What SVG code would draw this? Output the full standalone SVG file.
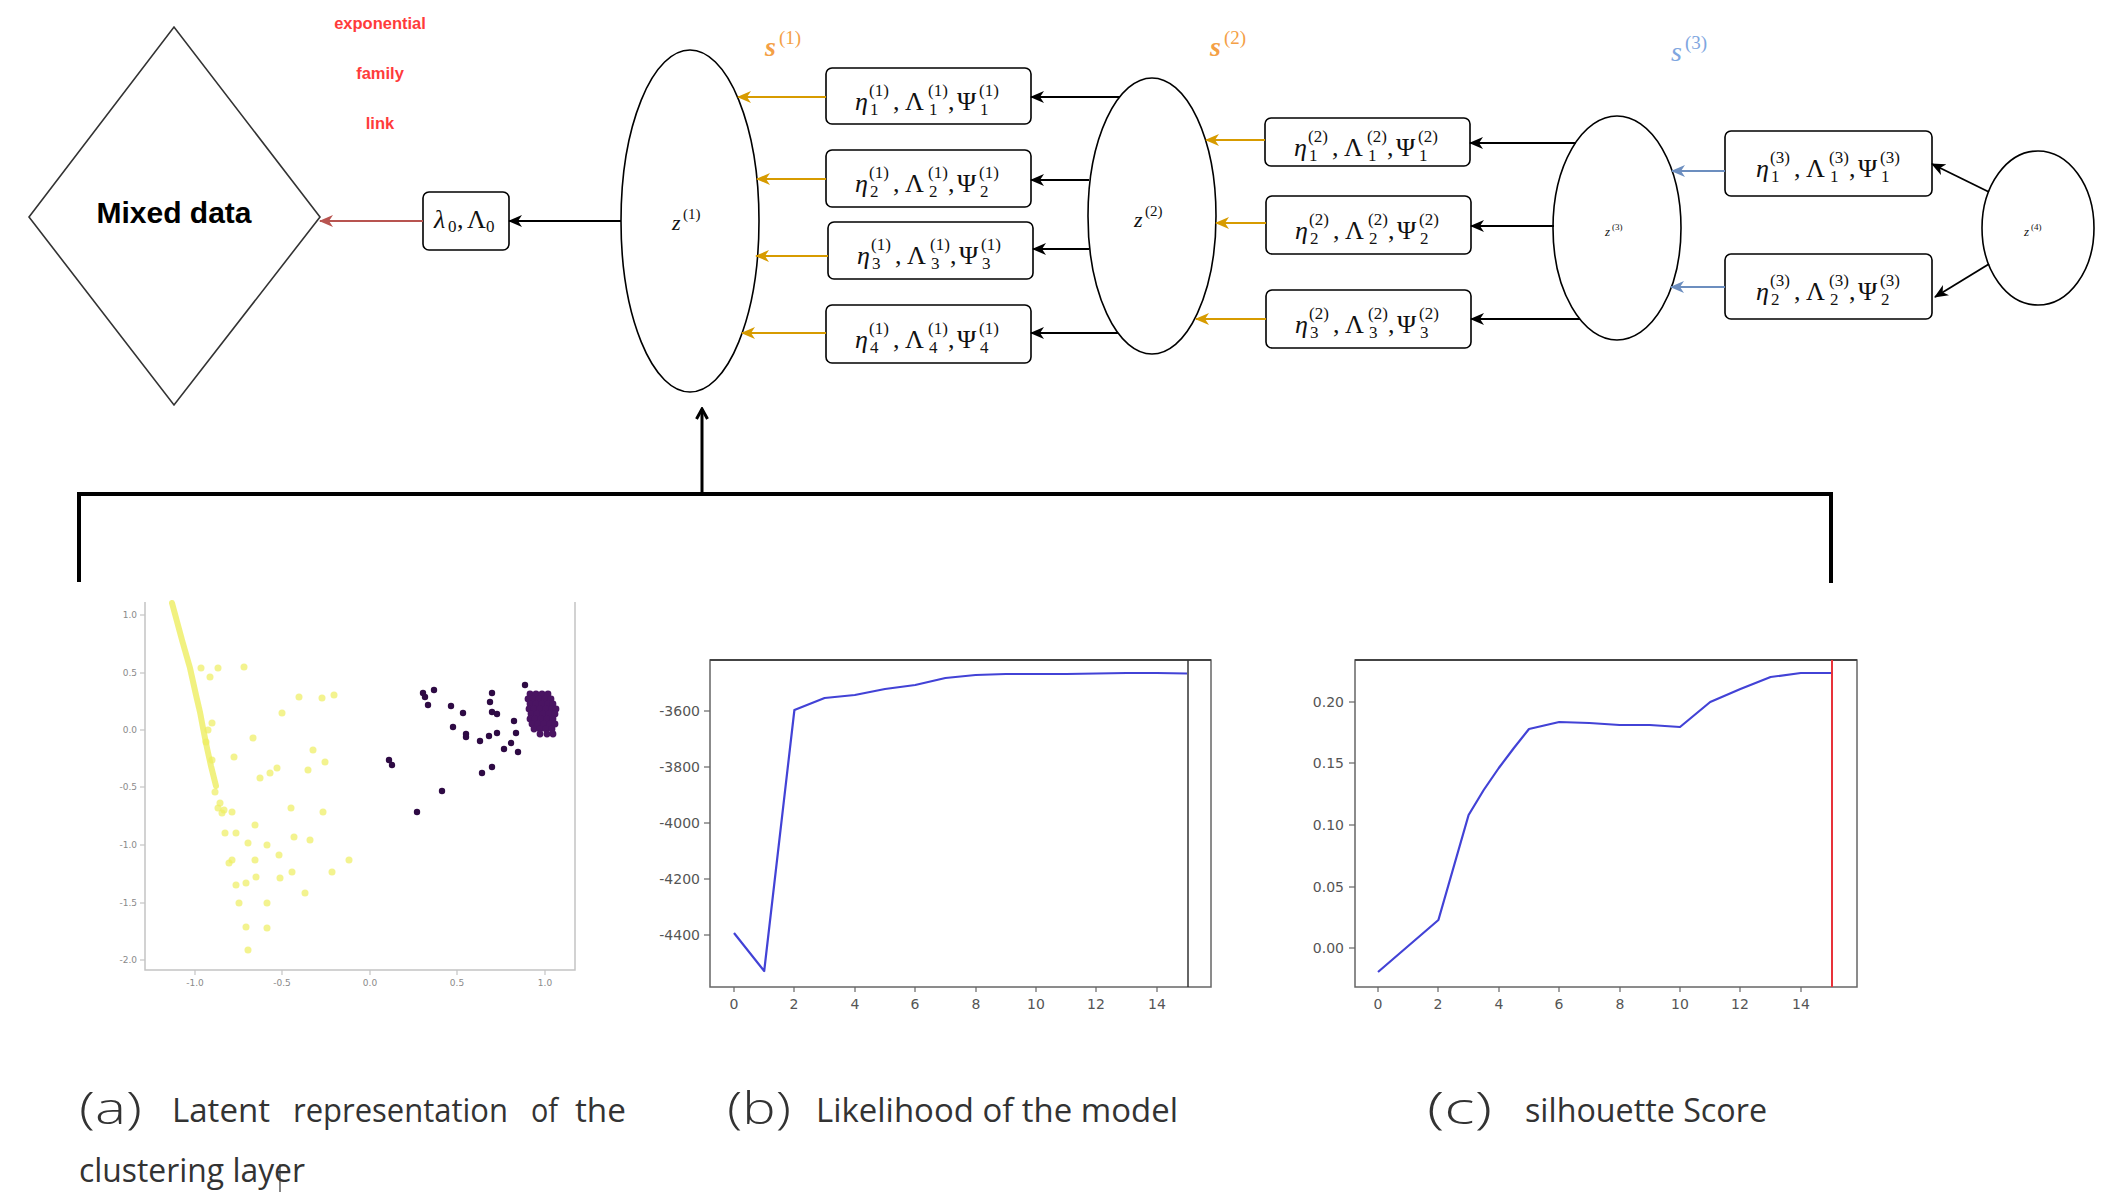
<svg xmlns="http://www.w3.org/2000/svg" width="2121" height="1192" viewBox="0 0 2121 1192">
  <style>
    .node { fill: #ffffff; stroke: #000000; stroke-width: 1.6; }
    .box { fill: #ffffff; stroke: #000000; stroke-width: 1.6; }
    .math { font-family: "Liberation Serif", "DejaVu Serif", serif; fill: #111111; }
    .it { font-style: italic; }
    .m { font-size: 26px; }
    .sc { font-size: 17px; }
    .wire { fill: none; stroke-width: 1.8; }
    .k { stroke: #000000; }
    .o { stroke: #d79b00; }
    .b { stroke: #6c8ebf; }
    .r { stroke: #b85450; }
    .red-lbl { font-family: "Liberation Sans", Arial, sans-serif; font-weight: bold; font-size: 16.5px; fill: #ff3b3b; text-anchor: middle; }
    .tick { font-family: "DejaVu Sans", sans-serif; font-size: 14px; fill: #555555; }
    .tick-s { font-family: "DejaVu Sans", sans-serif; font-size: 9px; fill: #8a8a8a; }
    .cap { font-family: "Open Sans", "Liberation Sans", sans-serif; font-size: 32px; fill: #333333; }
    .par { font-family: "Open Sans", "Liberation Sans", sans-serif; font-size: 44px; font-weight: 300; fill: #333333; }
    .yl { fill: #eeee60; fill-opacity: 0.7; }
    .pu { fill: #2e0a44; }
  </style>
  <defs>
    <marker id="ah-k" viewBox="0 0 14 12" refX="13" refY="6" markerWidth="14" markerHeight="12" orient="auto" markerUnits="userSpaceOnUse"><path d="M0,0 L14,6 L0,12 L4,6 Z" fill="#000000"/></marker>
    <marker id="ah-o" viewBox="0 0 14 12" refX="13" refY="6" markerWidth="14" markerHeight="12" orient="auto" markerUnits="userSpaceOnUse"><path d="M0,0 L14,6 L0,12 L4,6 Z" fill="#d79b00"/></marker>
    <marker id="ah-b" viewBox="0 0 14 12" refX="13" refY="6" markerWidth="14" markerHeight="12" orient="auto" markerUnits="userSpaceOnUse"><path d="M0,0 L14,6 L0,12 L4,6 Z" fill="#6c8ebf"/></marker>
    <marker id="ah-r" viewBox="0 0 14 12" refX="13" refY="6" markerWidth="14" markerHeight="12" orient="auto" markerUnits="userSpaceOnUse"><path d="M0,0 L14,6 L0,12 L4,6 Z" fill="#b85450"/></marker>
    <marker id="ah-open" viewBox="0 0 14 14" refX="12" refY="7" markerWidth="14" markerHeight="14" orient="auto" markerUnits="userSpaceOnUse"><path d="M2,1.5 L12,7 L2,12.5" fill="none" stroke="#000000" stroke-width="3"/></marker>
  </defs>

  <rect x="0" y="0" width="2121" height="1192" fill="#ffffff"/>

  <!-- ===== model graph ===== -->
  <g id="mixed-data">
    <polygon points="29,217 174,27 320,217 174,405" fill="#ffffff" stroke="#333333" stroke-width="1.6"/>
    <text x="174" y="223" text-anchor="middle" font-family="Liberation Sans, Arial, sans-serif" font-weight="bold" font-size="30" fill="#000000">Mixed data</text>
  </g>

  <g id="link-label">
    <text class="red-lbl" x="380" y="29">exponential</text>
    <text class="red-lbl" x="380" y="79">family</text>
    <text class="red-lbl" x="380" y="129">link</text>
  </g>

  <g id="lambda0">
    <rect class="box" x="423" y="192" width="86" height="58" rx="6"/>
    <text class="math"><tspan class="m it" x="434" y="228">λ</tspan><tspan class="sc" x="448" y="232">0</tspan><tspan class="m" x="457" y="228">,</tspan><tspan class="m" x="467" y="228">Λ</tspan><tspan class="sc" x="486" y="232">0</tspan></text>
  </g>

  <g id="z1">
    <ellipse class="node" cx="690" cy="221" rx="69" ry="171"/>
    <text class="math"><tspan class="it" font-size="22" x="672" y="230">z</tspan><tspan font-size="15" x="683" y="219">(1)</tspan></text>
  </g>
  <g id="z2">
    <ellipse class="node" cx="1152" cy="216" rx="64" ry="138"/>
    <text class="math"><tspan class="it" font-size="22" x="1134" y="227">z</tspan><tspan font-size="15" x="1145" y="216">(2)</tspan></text>
  </g>
  <g id="z3">
    <ellipse class="node" cx="1617" cy="228" rx="64" ry="112"/>
    <text class="math"><tspan class="it" font-size="13" x="1605" y="236">z</tspan><tspan font-size="9" x="1612" y="230">(3)</tspan></text>
  </g>
  <g id="z4">
    <ellipse class="node" cx="2038" cy="228" rx="56" ry="77"/>
    <text class="math"><tspan class="it" font-size="13" x="2024" y="236">z</tspan><tspan font-size="9" x="2031" y="230">(4)</tspan></text>
  </g>

  <g id="s-labels" font-family="Liberation Serif, DejaVu Serif, serif">
    <text fill="#f4a045"><tspan x="765" y="56" font-size="28" font-style="italic" font-weight="bold">s</tspan><tspan x="779" y="44" font-size="19">(1)</tspan></text>
    <text fill="#f4a045"><tspan x="1210" y="56" font-size="28" font-style="italic" font-weight="bold">s</tspan><tspan x="1224" y="44" font-size="19">(2)</tspan></text>
    <text fill="#7ea6e0"><tspan x="1671" y="61" font-size="28" font-style="italic">s</tspan><tspan x="1685" y="49" font-size="19">(3)</tspan></text>
  </g>

  <!-- parameter boxes: eta_j^(l), Lambda_j^(l), Psi_j^(l) -->
  <g id="p1-1">
    <rect class="box" x="826" y="68" width="205" height="56" rx="6"/>
    <text class="math"><tspan class="m it" x="855" y="110">η</tspan><tspan class="sc" x="869" y="96">(1)</tspan><tspan class="sc" x="870" y="115">1</tspan><tspan class="m" x="893" y="110">,</tspan><tspan class="m" x="905" y="110">Λ</tspan><tspan class="sc" x="928" y="96">(1)</tspan><tspan class="sc" x="929" y="115">1</tspan><tspan class="m" x="948" y="110">,</tspan><tspan class="m" x="957" y="110">Ψ</tspan><tspan class="sc" x="979" y="96">(1)</tspan><tspan class="sc" x="980" y="115">1</tspan></text>
  </g>
  <g id="p1-2">
    <rect class="box" x="826" y="150" width="205" height="57" rx="6"/>
    <text class="math"><tspan class="m it" x="855" y="192">η</tspan><tspan class="sc" x="869" y="178">(1)</tspan><tspan class="sc" x="870" y="197">2</tspan><tspan class="m" x="893" y="192">,</tspan><tspan class="m" x="905" y="192">Λ</tspan><tspan class="sc" x="928" y="178">(1)</tspan><tspan class="sc" x="929" y="197">2</tspan><tspan class="m" x="948" y="192">,</tspan><tspan class="m" x="957" y="192">Ψ</tspan><tspan class="sc" x="979" y="178">(1)</tspan><tspan class="sc" x="980" y="197">2</tspan></text>
  </g>
  <g id="p1-3">
    <rect class="box" x="828" y="222" width="205" height="57" rx="6"/>
    <text class="math"><tspan class="m it" x="857" y="264">η</tspan><tspan class="sc" x="871" y="250">(1)</tspan><tspan class="sc" x="872" y="269">3</tspan><tspan class="m" x="895" y="264">,</tspan><tspan class="m" x="907" y="264">Λ</tspan><tspan class="sc" x="930" y="250">(1)</tspan><tspan class="sc" x="931" y="269">3</tspan><tspan class="m" x="950" y="264">,</tspan><tspan class="m" x="959" y="264">Ψ</tspan><tspan class="sc" x="981" y="250">(1)</tspan><tspan class="sc" x="982" y="269">3</tspan></text>
  </g>
  <g id="p1-4">
    <rect class="box" x="826" y="305" width="205" height="58" rx="6"/>
    <text class="math"><tspan class="m it" x="855" y="348">η</tspan><tspan class="sc" x="869" y="334">(1)</tspan><tspan class="sc" x="870" y="353">4</tspan><tspan class="m" x="893" y="348">,</tspan><tspan class="m" x="905" y="348">Λ</tspan><tspan class="sc" x="928" y="334">(1)</tspan><tspan class="sc" x="929" y="353">4</tspan><tspan class="m" x="948" y="348">,</tspan><tspan class="m" x="957" y="348">Ψ</tspan><tspan class="sc" x="979" y="334">(1)</tspan><tspan class="sc" x="980" y="353">4</tspan></text>
  </g>

  <g id="p2-1">
    <rect class="box" x="1265" y="118" width="205" height="48" rx="6"/>
    <text class="math"><tspan class="m it" x="1294" y="156">η</tspan><tspan class="sc" x="1308" y="142">(2)</tspan><tspan class="sc" x="1309" y="161">1</tspan><tspan class="m" x="1332" y="156">,</tspan><tspan class="m" x="1344" y="156">Λ</tspan><tspan class="sc" x="1367" y="142">(2)</tspan><tspan class="sc" x="1368" y="161">1</tspan><tspan class="m" x="1387" y="156">,</tspan><tspan class="m" x="1396" y="156">Ψ</tspan><tspan class="sc" x="1418" y="142">(2)</tspan><tspan class="sc" x="1419" y="161">1</tspan></text>
  </g>
  <g id="p2-2">
    <rect class="box" x="1266" y="196" width="205" height="58" rx="6"/>
    <text class="math"><tspan class="m it" x="1295" y="239">η</tspan><tspan class="sc" x="1309" y="225">(2)</tspan><tspan class="sc" x="1310" y="244">2</tspan><tspan class="m" x="1333" y="239">,</tspan><tspan class="m" x="1345" y="239">Λ</tspan><tspan class="sc" x="1368" y="225">(2)</tspan><tspan class="sc" x="1369" y="244">2</tspan><tspan class="m" x="1388" y="239">,</tspan><tspan class="m" x="1397" y="239">Ψ</tspan><tspan class="sc" x="1419" y="225">(2)</tspan><tspan class="sc" x="1420" y="244">2</tspan></text>
  </g>
  <g id="p2-3">
    <rect class="box" x="1266" y="290" width="205" height="58" rx="6"/>
    <text class="math"><tspan class="m it" x="1295" y="333">η</tspan><tspan class="sc" x="1309" y="319">(2)</tspan><tspan class="sc" x="1310" y="338">3</tspan><tspan class="m" x="1333" y="333">,</tspan><tspan class="m" x="1345" y="333">Λ</tspan><tspan class="sc" x="1368" y="319">(2)</tspan><tspan class="sc" x="1369" y="338">3</tspan><tspan class="m" x="1388" y="333">,</tspan><tspan class="m" x="1397" y="333">Ψ</tspan><tspan class="sc" x="1419" y="319">(2)</tspan><tspan class="sc" x="1420" y="338">3</tspan></text>
  </g>

  <g id="p3-1">
    <rect class="box" x="1725" y="131" width="207" height="65" rx="6"/>
    <text class="math"><tspan class="m it" x="1756" y="177">η</tspan><tspan class="sc" x="1770" y="163">(3)</tspan><tspan class="sc" x="1771" y="182">1</tspan><tspan class="m" x="1794" y="177">,</tspan><tspan class="m" x="1806" y="177">Λ</tspan><tspan class="sc" x="1829" y="163">(3)</tspan><tspan class="sc" x="1830" y="182">1</tspan><tspan class="m" x="1849" y="177">,</tspan><tspan class="m" x="1858" y="177">Ψ</tspan><tspan class="sc" x="1880" y="163">(3)</tspan><tspan class="sc" x="1881" y="182">1</tspan></text>
  </g>
  <g id="p3-2">
    <rect class="box" x="1725" y="254" width="207" height="65" rx="6"/>
    <text class="math"><tspan class="m it" x="1756" y="300">η</tspan><tspan class="sc" x="1770" y="286">(3)</tspan><tspan class="sc" x="1771" y="305">2</tspan><tspan class="m" x="1794" y="300">,</tspan><tspan class="m" x="1806" y="300">Λ</tspan><tspan class="sc" x="1829" y="286">(3)</tspan><tspan class="sc" x="1830" y="305">2</tspan><tspan class="m" x="1849" y="300">,</tspan><tspan class="m" x="1858" y="300">Ψ</tspan><tspan class="sc" x="1880" y="286">(3)</tspan><tspan class="sc" x="1881" y="305">2</tspan></text>
  </g>

  <!-- ===== connectors ===== -->
  <g id="connectors">
    <line class="wire r" x1="423" y1="221" x2="320" y2="221" marker-end="url(#ah-r)"/>
    <line class="wire k" x1="621" y1="221" x2="509" y2="221" marker-end="url(#ah-k)"/>

    <line class="wire o" x1="826" y1="97" x2="738" y2="97" marker-end="url(#ah-o)"/>
    <line class="wire o" x1="826" y1="179" x2="757" y2="179" marker-end="url(#ah-o)"/>
    <line class="wire o" x1="828" y1="256" x2="756" y2="256" marker-end="url(#ah-o)"/>
    <line class="wire o" x1="826" y1="333" x2="742" y2="333" marker-end="url(#ah-o)"/>

    <line class="wire k" x1="1120" y1="97" x2="1031" y2="97" stroke-width="2.2" marker-end="url(#ah-k)"/>
    <line class="wire k" x1="1089" y1="180" x2="1031" y2="180" stroke-width="2.2" marker-end="url(#ah-k)"/>
    <line class="wire k" x1="1089" y1="249" x2="1033" y2="249" stroke-width="2.2" marker-end="url(#ah-k)"/>
    <line class="wire k" x1="1118" y1="333" x2="1031" y2="333" stroke-width="2.2" marker-end="url(#ah-k)"/>

    <line class="wire o" x1="1265" y1="140" x2="1206" y2="140" marker-end="url(#ah-o)"/>
    <line class="wire o" x1="1266" y1="223" x2="1216" y2="223" marker-end="url(#ah-o)"/>
    <line class="wire o" x1="1266" y1="319" x2="1196" y2="319" marker-end="url(#ah-o)"/>

    <line class="wire k" x1="1576" y1="143" x2="1470" y2="143" marker-end="url(#ah-k)"/>
    <line class="wire k" x1="1554" y1="226" x2="1471" y2="226" marker-end="url(#ah-k)"/>
    <line class="wire k" x1="1580" y1="319" x2="1471" y2="319" marker-end="url(#ah-k)"/>

    <line class="wire b" x1="1725" y1="171" x2="1672" y2="171" marker-end="url(#ah-b)"/>
    <line class="wire b" x1="1725" y1="287" x2="1671" y2="287" marker-end="url(#ah-b)"/>

    <line class="wire k" x1="1989" y1="192" x2="1932" y2="164" marker-end="url(#ah-k)"/>
    <line class="wire k" x1="1989" y1="264" x2="1935" y2="297" marker-end="url(#ah-k)"/>

    <polyline points="79,582 79,494 1831,494 1831,583" fill="none" stroke="#000000" stroke-width="4"/>
    <line x1="702" y1="494" x2="702" y2="409" stroke="#000000" stroke-width="3" marker-end="url(#ah-open)"/>
  </g>

  <!-- ===== (a) latent scatter ===== -->
  <g id="plot-a">
    <polyline points="145,602 145,970 575,970 575,602" fill="none" stroke="#c4c4c4" stroke-width="1.5"/>
    <g stroke="#c4c4c4" stroke-width="1.2">
      <line x1="140" y1="615" x2="145" y2="615"/><line x1="140" y1="673" x2="145" y2="673"/><line x1="140" y1="730" x2="145" y2="730"/><line x1="140" y1="787" x2="145" y2="787"/><line x1="140" y1="845" x2="145" y2="845"/><line x1="140" y1="903" x2="145" y2="903"/><line x1="140" y1="960" x2="145" y2="960"/>
      <line x1="195" y1="970" x2="195" y2="975"/><line x1="282" y1="970" x2="282" y2="975"/><line x1="370" y1="970" x2="370" y2="975"/><line x1="457" y1="970" x2="457" y2="975"/><line x1="545" y1="970" x2="545" y2="975"/>
    </g>
    <g class="tick-s" text-anchor="end">
      <text x="137" y="618">1.0</text><text x="137" y="676">0.5</text><text x="137" y="733">0.0</text><text x="137" y="790">-0.5</text><text x="137" y="848">-1.0</text><text x="137" y="906">-1.5</text><text x="137" y="963">-2.0</text>
    </g>
    <g class="tick-s" text-anchor="middle">
      <text x="195" y="986">-1.0</text><text x="282" y="986">-0.5</text><text x="370" y="986">0.0</text><text x="457" y="986">0.5</text><text x="545" y="986">1.0</text>
    </g>
    <!-- yellow cluster: dense streak plus scattered points -->
    <path d="M172,603 L182,640 L190,668 L196,695 L200,712 L203,728 L207,748 L211,766 L216,786" fill="none" stroke="#eeee60" stroke-opacity="0.8" stroke-width="6" stroke-linecap="round"/>
    <g class="yl">
      <circle cx="201" cy="668" r="3.5"/><circle cx="218" cy="668" r="3.5"/><circle cx="244" cy="667" r="3.5"/><circle cx="210" cy="677" r="3.5"/>
      <circle cx="299" cy="697" r="3.5"/><circle cx="322" cy="698" r="3.5"/><circle cx="334" cy="695" r="3.5"/><circle cx="282" cy="713" r="3.5"/>
      <circle cx="253" cy="738" r="3.5"/><circle cx="234" cy="757" r="3.5"/><circle cx="313" cy="750" r="3.5"/><circle cx="325" cy="762" r="3.5"/>
      <circle cx="308" cy="770" r="3.5"/><circle cx="260" cy="778" r="3.5"/><circle cx="277" cy="768" r="3.5"/><circle cx="270" cy="773" r="3.5"/>
      <circle cx="291" cy="808" r="3.5"/><circle cx="323" cy="812" r="3.5"/><circle cx="218" cy="808" r="3.5"/><circle cx="232" cy="812" r="3.5"/>
      <circle cx="225" cy="833" r="3.5"/><circle cx="236" cy="833" r="3.5"/><circle cx="255" cy="825" r="3.5"/><circle cx="248" cy="843" r="3.5"/>
      <circle cx="294" cy="837" r="3.5"/><circle cx="310" cy="840" r="3.5"/><circle cx="267" cy="845" r="3.5"/><circle cx="279" cy="855" r="3.5"/>
      <circle cx="232" cy="860" r="3.5"/><circle cx="229" cy="863" r="3.5"/><circle cx="255" cy="860" r="3.5"/><circle cx="349" cy="860" r="3.5"/>
      <circle cx="332" cy="872" r="3.5"/><circle cx="256" cy="877" r="3.5"/><circle cx="280" cy="878" r="3.5"/><circle cx="292" cy="872" r="3.5"/>
      <circle cx="236" cy="885" r="3.5"/><circle cx="246" cy="883" r="3.5"/><circle cx="305" cy="893" r="3.5"/><circle cx="239" cy="903" r="3.5"/>
      <circle cx="267" cy="903" r="3.5"/><circle cx="246" cy="927" r="3.5"/><circle cx="267" cy="928" r="3.5"/><circle cx="248" cy="950" r="3.5"/>
      <circle cx="212" cy="723" r="3.5"/><circle cx="208" cy="730" r="3.5"/><circle cx="222" cy="813" r="3.5"/><circle cx="220" cy="803" r="3.5"/>
      <circle cx="224" cy="810" r="3.5"/><circle cx="215" cy="792" r="3.5"/><circle cx="212" cy="760" r="3.5"/><circle cx="206" cy="742" r="3.5"/>
    </g>
    <!-- purple cluster -->
    <g class="pu">
      <circle cx="423" cy="693" r="3.2"/><circle cx="428" cy="705" r="3.2"/><circle cx="434" cy="690" r="3.2"/><circle cx="425" cy="697" r="3.2"/>
      <circle cx="451" cy="706" r="3.2"/><circle cx="463" cy="713" r="3.2"/><circle cx="453" cy="727" r="3.2"/><circle cx="466" cy="734" r="3.2"/>
      <circle cx="466" cy="737" r="3.2"/><circle cx="480" cy="741" r="3.2"/><circle cx="489" cy="736" r="3.2"/><circle cx="497" cy="733" r="3.2"/>
      <circle cx="492" cy="693" r="3.2"/><circle cx="490" cy="702" r="3.2"/><circle cx="492" cy="712" r="3.2"/><circle cx="497" cy="714" r="3.2"/>
      <circle cx="514" cy="721" r="3.2"/><circle cx="516" cy="733" r="3.2"/><circle cx="511" cy="743" r="3.2"/><circle cx="504" cy="749" r="3.2"/>
      <circle cx="518" cy="752" r="3.2"/><circle cx="525" cy="685" r="3.2"/><circle cx="482" cy="773" r="3.2"/><circle cx="492" cy="767" r="3.2"/>
      <circle cx="442" cy="791" r="3.2"/><circle cx="417" cy="812" r="3.2"/><circle cx="389" cy="760" r="3.2"/><circle cx="392" cy="765" r="3.2"/>
    </g>
    <g fill="#4a1462">
      <circle cx="530" cy="694" r="3.4"/><circle cx="536" cy="694" r="3.4"/><circle cx="542" cy="694" r="3.4"/><circle cx="548" cy="694" r="3.4"/>
      <circle cx="528" cy="699" r="3.4"/><circle cx="533" cy="699" r="3.4"/><circle cx="539" cy="699" r="3.4"/><circle cx="545" cy="699" r="3.4"/><circle cx="551" cy="699" r="3.4"/>
      <circle cx="530" cy="704" r="3.4"/><circle cx="536" cy="704" r="3.4"/><circle cx="542" cy="704" r="3.4"/><circle cx="548" cy="704" r="3.4"/><circle cx="553" cy="704" r="3.4"/>
      <circle cx="529" cy="709" r="3.4"/><circle cx="534" cy="709" r="3.4"/><circle cx="540" cy="709" r="3.4"/><circle cx="546" cy="709" r="3.4"/><circle cx="552" cy="709" r="3.4"/><circle cx="556" cy="709" r="3.4"/>
      <circle cx="531" cy="714" r="3.4"/><circle cx="537" cy="714" r="3.4"/><circle cx="543" cy="714" r="3.4"/><circle cx="549" cy="714" r="3.4"/><circle cx="555" cy="714" r="3.4"/>
      <circle cx="530" cy="719" r="3.4"/><circle cx="535" cy="719" r="3.4"/><circle cx="541" cy="719" r="3.4"/><circle cx="547" cy="719" r="3.4"/><circle cx="553" cy="719" r="3.4"/>
      <circle cx="532" cy="724" r="3.4"/><circle cx="538" cy="724" r="3.4"/><circle cx="544" cy="724" r="3.4"/><circle cx="550" cy="724" r="3.4"/><circle cx="555" cy="724" r="3.4"/>
      <circle cx="534" cy="729" r="3.4"/><circle cx="540" cy="729" r="3.4"/><circle cx="546" cy="729" r="3.4"/><circle cx="552" cy="729" r="3.4"/>
      <circle cx="540" cy="734" r="3.4"/><circle cx="547" cy="734" r="3.4"/><circle cx="553" cy="734" r="3.4"/>
    </g>
  </g>

  <!-- ===== (b) likelihood curve ===== -->
  <g id="plot-b">
    <rect x="710" y="660" width="501" height="327" fill="none" stroke="#666666" stroke-width="1.5"/>
    <line x1="710" y1="660" x2="1211" y2="660" stroke="#444444" stroke-width="2"/>
    <line x1="1188" y1="660" x2="1188" y2="987" stroke="#333333" stroke-width="1.5"/>
    <g stroke="#666666" stroke-width="1.2">
      <line x1="704" y1="711" x2="710" y2="711"/><line x1="704" y1="767" x2="710" y2="767"/><line x1="704" y1="823" x2="710" y2="823"/><line x1="704" y1="879" x2="710" y2="879"/><line x1="704" y1="935" x2="710" y2="935"/>
      <line x1="734" y1="987" x2="734" y2="992"/><line x1="794" y1="987" x2="794" y2="992"/><line x1="855" y1="987" x2="855" y2="992"/><line x1="915" y1="987" x2="915" y2="992"/><line x1="976" y1="987" x2="976" y2="992"/><line x1="1036" y1="987" x2="1036" y2="992"/><line x1="1096" y1="987" x2="1096" y2="992"/><line x1="1157" y1="987" x2="1157" y2="992"/>
    </g>
    <g class="tick" text-anchor="end">
      <text x="700" y="716">-3600</text><text x="700" y="772">-3800</text><text x="700" y="828">-4000</text><text x="700" y="884">-4200</text><text x="700" y="940">-4400</text>
    </g>
    <g class="tick" text-anchor="middle">
      <text x="734" y="1009">0</text><text x="794" y="1009">2</text><text x="855" y="1009">4</text><text x="915" y="1009">6</text><text x="976" y="1009">8</text><text x="1036" y="1009">10</text><text x="1096" y="1009">12</text><text x="1157" y="1009">14</text>
    </g>
    <polyline points="734,933 764.2,971 794.4,710 824.6,698 854.8,695 885,689 915.2,685 945.4,678 975.6,675 1005.8,674 1036,674 1066.2,674 1096.4,673.5 1126.6,673 1156.8,673 1187,673.5" fill="none" stroke="#4242d6" stroke-width="2.2" stroke-linejoin="round"/>
  </g>

  <!-- ===== (c) silhouette curve ===== -->
  <g id="plot-c">
    <rect x="1355" y="660" width="502" height="327" fill="none" stroke="#666666" stroke-width="1.5"/>
    <line x1="1355" y1="660" x2="1857" y2="660" stroke="#444444" stroke-width="2"/>
    <g stroke="#666666" stroke-width="1.2">
      <line x1="1349" y1="702" x2="1355" y2="702"/><line x1="1349" y1="763" x2="1355" y2="763"/><line x1="1349" y1="825" x2="1355" y2="825"/><line x1="1349" y1="887" x2="1355" y2="887"/><line x1="1349" y1="948" x2="1355" y2="948"/>
      <line x1="1378" y1="987" x2="1378" y2="992"/><line x1="1438" y1="987" x2="1438" y2="992"/><line x1="1499" y1="987" x2="1499" y2="992"/><line x1="1559" y1="987" x2="1559" y2="992"/><line x1="1620" y1="987" x2="1620" y2="992"/><line x1="1680" y1="987" x2="1680" y2="992"/><line x1="1740" y1="987" x2="1740" y2="992"/><line x1="1801" y1="987" x2="1801" y2="992"/>
    </g>
    <g class="tick" text-anchor="end">
      <text x="1344" y="707">0.20</text><text x="1344" y="768">0.15</text><text x="1344" y="830">0.10</text><text x="1344" y="892">0.05</text><text x="1344" y="953">0.00</text>
    </g>
    <g class="tick" text-anchor="middle">
      <text x="1378" y="1009">0</text><text x="1438" y="1009">2</text><text x="1499" y="1009">4</text><text x="1559" y="1009">6</text><text x="1620" y="1009">8</text><text x="1680" y="1009">10</text><text x="1740" y="1009">12</text><text x="1801" y="1009">14</text>
    </g>
    <polyline points="1378,972 1408.2,946 1438.4,920 1468.6,815 1483.7,790 1498.8,768 1513.9,748 1529,729 1559.2,722 1589.4,723 1619.6,725 1649.8,725 1680,727 1710.2,702 1740.4,689 1770.6,677 1800.8,673 1831,673" fill="none" stroke="#4242d6" stroke-width="2.2" stroke-linejoin="round"/>
    <line x1="1832" y1="660" x2="1832" y2="987" stroke="#e8333a" stroke-width="2"/>
  </g>

  <!-- ===== captions ===== -->
  <g id="captions">
    <text class="par" x="79" y="1124" textLength="63" lengthAdjust="spacingAndGlyphs">(a)</text>
    <text class="cap" x="172" y="1122" textLength="98" lengthAdjust="spacingAndGlyphs">Latent</text>
    <text class="cap" x="293" y="1122" textLength="215" lengthAdjust="spacingAndGlyphs">representation</text>
    <text class="cap" x="531" y="1122" textLength="27" lengthAdjust="spacingAndGlyphs">of</text>
    <text class="cap" x="575" y="1122" textLength="51" lengthAdjust="spacingAndGlyphs">the</text>
    <text class="cap" x="79" y="1182" textLength="226" lengthAdjust="spacingAndGlyphs">clustering layer</text>
    <line x1="280" y1="1164" x2="280" y2="1192" stroke="#333333" stroke-width="1.2"/>

    <text class="par" x="727" y="1124" textLength="64" lengthAdjust="spacingAndGlyphs">(b)</text>
    <text class="cap" x="816" y="1122" textLength="362" lengthAdjust="spacingAndGlyphs">Likelihood of the model</text>

    <text class="par" x="1427" y="1124" textLength="65" lengthAdjust="spacingAndGlyphs">(c)</text>
    <text class="cap" x="1525" y="1122" textLength="242" lengthAdjust="spacingAndGlyphs">silhouette Score</text>
  </g>
</svg>
